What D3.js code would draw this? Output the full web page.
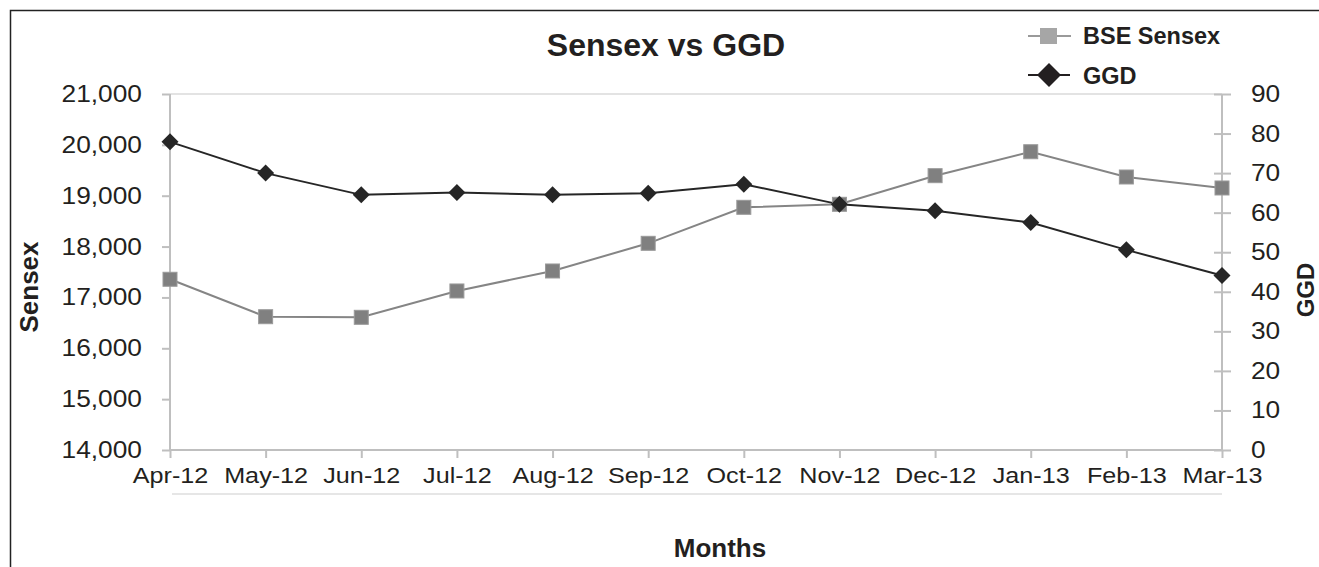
<!DOCTYPE html>
<html>
<head>
<meta charset="utf-8">
<script src="https://cdn.jsdelivr.net/npm/d3@7"></script>
<style>
  html, body { margin: 0; padding: 0; background: #fff; overflow: hidden; }
  svg { display: block; font-family: "Liberation Sans", Arial, sans-serif; }
</style>
</head>
<body>
<svg id="chart" width="1319" height="567"></svg>
<script>
const months = ["Apr-12","May-12","Jun-12","Jul-12","Aug-12","Sep-12","Oct-12","Nov-12","Dec-12","Jan-13","Feb-13","Mar-13"];
const sensex = [17357, 16621, 16609, 17127, 17520, 18064, 18772, 18831, 19394, 19865, 19368, 19152];
const ggd = [77.9, 70.0, 64.5, 65.1, 64.5, 64.9, 67.2, 62.1, 60.5, 57.5, 50.6, 44.1];
const leftTicks = [14000, 15000, 16000, 17000, 18000, 19000, 20000, 21000];
const rightTicks = [0, 10, 20, 30, 40, 50, 60, 70, 80, 90];

const svg = d3.select("#chart");
const L = 170, R = 1222, T = 94, B = 450;
const axisColor = "#bfbfbf";
const textColor = "#231f20";

// frame (left and top edges visible)
svg.append("path").attr("d", "M10.5,567V10.5H1319")
  .attr("fill", "none").attr("stroke", "#222").attr("stroke-width", 1.5);

const x = d3.scalePoint().domain(months).range([L, R]);
const yL = d3.scaleLinear().domain([14000, 21000]).range([B, T]);
const yR = d3.scaleLinear().domain([0, 90]).range([B, T]);

// top gridline
svg.append("line").attr("x1", L).attr("x2", R).attr("y1", yL(21000)).attr("y2", yL(21000))
  .attr("stroke", "#e3e3e3").attr("stroke-width", 2);

const gL = svg.append("g").attr("transform", `translate(${L},0)`)
  .call(d3.axisLeft(yL).tickValues(leftTicks).tickFormat(d3.format(",")).tickSize(8).tickPadding(20));
const gR = svg.append("g").attr("transform", `translate(${R},0)`)
  .call(d3.axisRight(yR).tickValues(rightTicks).tickSize(9).tickPadding(20));
gR.selectAll(".tick line").attr("x1", -8);
const gB = svg.append("g").attr("transform", `translate(0,${B})`)
  .call(d3.axisBottom(x).tickSize(8).tickPadding(9));

const sx = 1.12;
[[gL, 23.5], [gR, 23.5], [gB, 22.5]].forEach(([g, fs]) => {
  g.select(".domain").attr("stroke", axisColor).attr("stroke-width", 2);
  g.selectAll(".tick line").attr("stroke", axisColor).attr("stroke-width", 2);
  g.selectAll(".tick text").attr("fill", textColor).attr("font-size", fs)
    .attr("font-family", "Liberation Sans, Arial, sans-serif")
    .each(function() {
      const t = d3.select(this);
      const xv = +(t.attr("x") || 0);
      t.attr("x", xv / sx).attr("transform", `scale(${sx},1)`);
    });
});
gL.select(".domain").attr("d", `M0,${B}V${T}`);
gR.select(".domain").attr("d", `M0,${B}V${T}`);
gB.select(".domain").attr("d", `M${L},0H${R}`);

// light line under category labels
svg.append("line").attr("x1", L + 2).attr("x2", R).attr("y1", 494).attr("y2", 494)
  .attr("stroke", "#e6e6e6").attr("stroke-width", 2);

const lineS = d3.line().x((d, i) => x(months[i])).y(d => yL(d));
const lineG = d3.line().x((d, i) => x(months[i])).y(d => yR(d));

svg.append("path").datum(sensex).attr("d", lineS).attr("fill", "none")
  .attr("stroke", "#858585").attr("stroke-width", 2);
svg.append("path").datum(ggd).attr("d", lineG).attr("fill", "none")
  .attr("stroke", "#262626").attr("stroke-width", 2);

const sq = 14;
svg.selectAll("rect.s").data(sensex).enter().append("rect").attr("class", "s")
  .attr("x", (d, i) => x(months[i]) - sq / 2).attr("y", d => yL(d) - sq / 2)
  .attr("width", sq).attr("height", sq).attr("fill", "#808080")
  .attr("stroke", "#9a9a9a").attr("stroke-width", 1);

svg.selectAll("path.g").data(ggd).enter().append("path").attr("class", "g")
  .attr("d", "M0,-8.5L8.5,0L0,8.5L-8.5,0Z")
  .attr("transform", (d, i) => `translate(${x(months[i])},${yR(d)})`)
  .attr("fill", "#262626");

// title
svg.append("text").attr("x", 666).attr("y", 56).attr("text-anchor", "middle")
  .attr("font-size", 32).attr("font-weight", "bold").attr("fill", textColor).text("Sensex vs GGD");

// axis titles
svg.append("text").attr("transform", "translate(38,287) rotate(-90)").attr("text-anchor", "middle")
  .attr("font-size", 26).attr("font-weight", "bold").attr("fill", textColor).text("Sensex");
svg.append("text").attr("transform", "translate(1314,290) rotate(-90)").attr("text-anchor", "middle")
  .attr("font-size", 24).attr("font-weight", "bold").attr("fill", textColor).text("GGD");
svg.append("text").attr("x", 720).attr("y", 557).attr("text-anchor", "middle")
  .attr("font-size", 26).attr("font-weight", "bold").attr("fill", textColor).text("Months");

// legend
const lg = svg.append("g");
lg.append("line").attr("x1", 1028).attr("x2", 1071).attr("y1", 36).attr("y2", 36)
  .attr("stroke", "#9a9a9a").attr("stroke-width", 2);
lg.append("rect").attr("x", 1040).attr("y", 28).attr("width", 17).attr("height", 16).attr("fill", "#a6a6a6");
lg.append("text").attr("x", 1083).attr("y", 44).attr("font-size", 23.5).attr("font-weight", "bold")
  .attr("fill", textColor).text("BSE Sensex");
lg.append("line").attr("x1", 1028).attr("x2", 1070).attr("y1", 75).attr("y2", 75)
  .attr("stroke", textColor).attr("stroke-width", 2);
lg.append("path").attr("d", "M0,-12L12,0L0,12L-12,0Z").attr("transform", "translate(1049,75)").attr("fill", textColor);
lg.append("text").attr("x", 1083).attr("y", 84).attr("font-size", 23.5).attr("font-weight", "bold")
  .attr("fill", textColor).text("GGD");
</script>
</body>
</html>
